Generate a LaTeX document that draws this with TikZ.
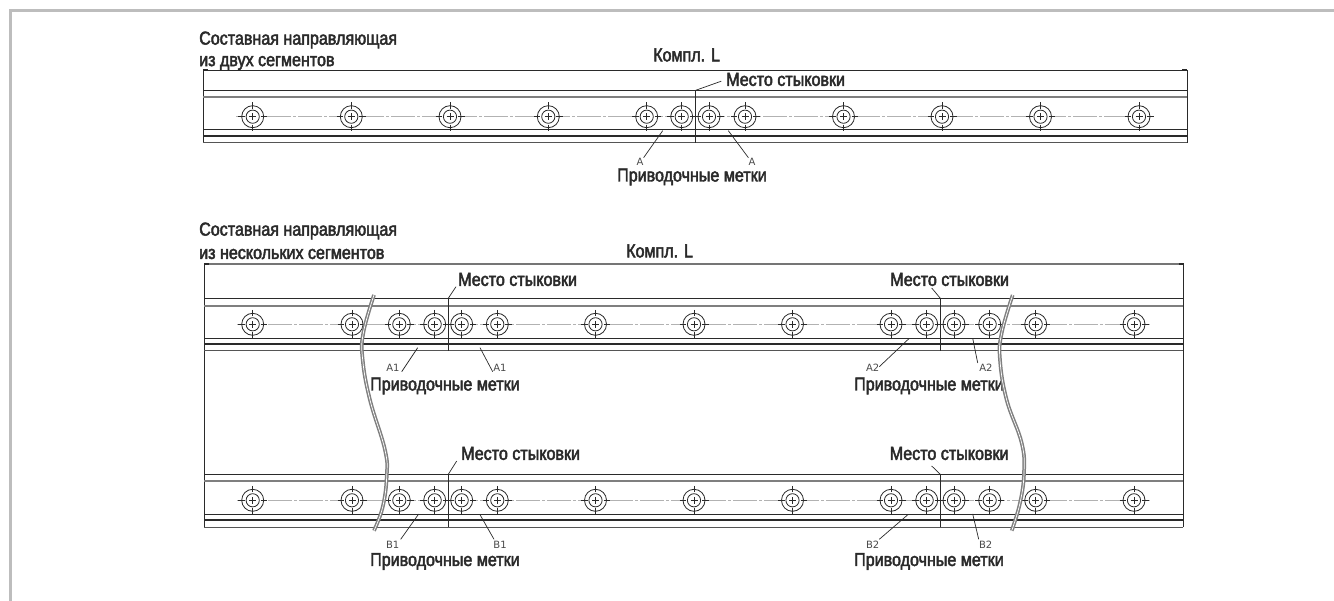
\documentclass[tikz,border=0pt]{standalone}
\usepackage{fontspec}
\setmainfont[FakeStretch=0.86,FakeBold=2.5]{Liberation Sans}
\newfontfamily\lightfont{DejaVu Sans}
\definecolor{ink}{HTML}{2A2A2A}
\definecolor{framegray}{HTML}{BDBDBD}
\tikzset{
  x=1pt,y=-1pt,
  lbl/.style={font=\fontsize{18.7}{20}\selectfont,text=ink,inner sep=0pt,anchor=west},
  mark label/.style={font=\lightfont\fontsize{10}{11}\selectfont,text=ink!85,inner sep=0pt,anchor=center},
  thinline/.style={draw=ink,line width=1pt},
  thickline/.style={draw=ink!60,line width=2pt},
  darkline/.style={draw=ink,line width=1.8pt},
  leaderline/.style={draw=ink,line width=0.7pt},
  axisline/.style={draw=black!30,line width=0.7pt,dash pattern=on 24pt off 2pt on 3pt off 2pt},
  breakline/.style={draw=black!50,line width=1.5pt,double=white,double distance=0.7pt,line cap=butt},
  framel/.style={draw=framegray,line width=3pt},
}
\newcommand{\railbody}[8]{%
  \draw[thinline] (#7,#1) -- (#8,#1);
  \draw[thickline] (#7,#2) -- (#8,#2);
  \draw[thinline] (#7,#4) -- (#8,#4);
  \draw[darkline] (#7,#5) -- (#8,#5);
  \draw[thinline,draw=ink!80] (#7,#6) -- (#8,#6);
  \draw[axisline] (#7+33,#3) -- (#8-33,#3);
}
\newcommand{\holes}[2]{%
  \foreach \hx in {#2} {
    \draw[draw=ink,line width=0.8pt,fill=white] (\hx,#1) circle[radius=11];
    \draw[draw=ink,line width=0.8pt] (\hx,#1) circle[radius=6.6];
    \draw[draw=ink,line width=0.5pt] (\hx-14.5,#1) -- (\hx-8,#1) (\hx+8,#1) -- (\hx+14.5,#1)
      (\hx,#1-14.5) -- (\hx,#1-8) (\hx,#1+8) -- (\hx,#1+14.5);
    \draw[draw=ink,line width=0.5pt] (\hx-3.5,#1) -- (\hx+3.5,#1) (\hx,#1-3.5) -- (\hx,#1+3.5);
  }
}
\begin{document}
\begin{tikzpicture}
\useasboundingbox (0,0) rectangle (1334,601);
\fill[white] (0,0) rectangle (1334,601);
\draw[framel] (10.5,601) -- (10.5,10.5) -- (1334,10.5);

% ---------- top assembly
\draw[thinline] (203,143) -- (203,70.3) -- (1187,70.3) -- (1187,143);
\draw[darkline] (203,70.3) -- (208,70.3) (1182,70.3) -- (1187,70.3);
\railbody{90.3}{97.3}{116.7}{130}{135.7}{143}{203}{1187}
\holes{116.7}{252.7,351.3,450,548.3,646.7,681.7,709,745,843.5,942,1040.5,1139}
\coordinate (jt) at (695.7,90.3);
\coordinate (jb) at (695.7,143);
\draw[draw=ink,line width=1.1pt] (jt) -- (jb);

\node[lbl] (t1a) at (199,40) {Составная направляющая};
\node[lbl] (t1b) at (199,63) {из двух сегментов};
\node[lbl] (k1) at (653,55) {Компл. L};
\node[lbl] (m1) at (726,79.5) {Место стыковки};
\node[lbl] (p1) at (617,177) {Приводочные метки};
\node[mark label] (a1l) at (640,161.5) {A};
\node[mark label] (a1r) at (752,161.5) {A};
\coordinate (a1ls) at (662.7,130.7);
\coordinate (a1rs) at (728.3,130.7);
\draw[leaderline,shorten >=5pt] (jt) -- (m1.west);
\draw[leaderline] (a1ls) -- (a1l.north east);
\draw[leaderline] (a1rs) -- (a1r.north west);

% ---------- lower assembly
\draw[draw=ink!65,line width=1.4pt] (204.3,264) -- (1183.3,264);
\draw[draw=ink,line width=1pt] (204.3,527) -- (204.3,263.5) (1183.3,527) -- (1183.3,263.5);
\draw[darkline] (204.3,264) -- (209,264) (1178.5,264) -- (1183.3,264);
\railbody{298.3}{305.7}{324.3}{338.3}{344}{351}{204.3}{1183.3}
\railbody{474.3}{481}{500.3}{514}{519.7}{527}{204.3}{1183.3}
\holes{324.3}{252.7,352,399.3,434.7,461.7,497.3,595.5,694,792.5,891,926.7,954,989.7,1035.7,1134}
\holes{500.3}{252.7,352,399.3,434.7,461.7,497.3,595.5,694,792.5,891,926.7,954,989.7,1035.7,1134}

\coordinate (j2a) at (448.3,298.3); \coordinate (j2ab) at (448.3,351);
\coordinate (j3a) at (940.3,298.3); \coordinate (j3ab) at (940.3,351);
\coordinate (j2b) at (448.3,474.3); \coordinate (j2bb) at (448.3,527);
\coordinate (j3b) at (940.3,474.3); \coordinate (j3bb) at (940.3,527);
\draw[draw=ink,line width=1.1pt] (j2a) -- (j2ab) (j3a) -- (j3ab) (j2b) -- (j2bb) (j3b) -- (j3bb);

\node[lbl] (t2a) at (199,231) {Составная направляющая};
\node[lbl] (t2b) at (199,254) {из нескольких сегментов};
\node[lbl] (k2) at (626,251) {Компл. L};
\node[lbl] (m2) at (458,279.5) {Место стыковки};
\node[lbl] (m3) at (890,279.5) {Место стыковки};
\node[lbl] (m4) at (461,453.5) {Место стыковки};
\node[lbl] (m5) at (889.5,453.5) {Место стыковки};
\node[lbl] (p2) at (370,386) {Приводочные метки};
\node[lbl] (p3) at (854,386) {Приводочные метки};
\node[lbl] (p4) at (370,561.5) {Приводочные метки};
\node[lbl] (p5) at (854,561.5) {Приводочные метки};
\coordinate (m2e) at (456,286.7);
\coordinate (m3e) at (931.7,288);
\coordinate (m4e) at (456.7,461);
\coordinate (m5e) at (931.7,466);
\draw[leaderline] (j2a) -- (m2e) (j3a) -- (m3e) (j2b) -- (m4e) (j3b) -- (m5e);

\node[mark label] (A1l) at (393,368) {A1};
\node[mark label] (A1r) at (500,368) {A1};
\node[mark label] (A2l) at (872.7,368) {A2};
\node[mark label] (A2r) at (986,368) {A2};
\node[mark label] (B1l) at (392.7,544.7) {B1};
\node[mark label] (B1r) at (500,544.7) {B1};
\node[mark label] (B2l) at (872.7,544.7) {B2};
\node[mark label] (B2r) at (985.7,544.7) {B2};
\coordinate (A1ls) at (417.7,347.7); \coordinate (A1rs) at (480,347.7);
\coordinate (A2ls) at (909.3,338.3); \coordinate (A2rs) at (972.7,338.3);
\coordinate (B1ls) at (418.7,514); \coordinate (B1rs) at (480,514.7);
\coordinate (B2ls) at (908.3,514.3); \coordinate (B2rs) at (972.7,514);
\draw[leaderline] (A1ls) -- (401.7,371.7) (A1rs) -- (492.7,371.7);
\draw[leaderline] (A2ls) -- (879.3,366.7) (A2rs) -- (977.7,363);
\draw[leaderline] (B1ls) -- (400.7,539.3) (B1rs) -- (494,539.3);
\draw[leaderline] (B2ls) -- (879.3,539.3) (B2rs) -- (978.7,539.3);

% break lines
\draw[breakline] plot[smooth,tension=0.7] coordinates {(374,295) (363.3,333) (362.7,360) (370,400) (385,450) (386.7,476.7) (382.7,507) (374,530.7)};
\draw[breakline] plot[smooth,tension=0.7] coordinates {(1012.7,295) (1001.7,333) (1000,360) (1006.7,400) (1021.7,443) (1024,473) (1020,503) (1011.7,530.7)};
\end{tikzpicture}
\end{document}
